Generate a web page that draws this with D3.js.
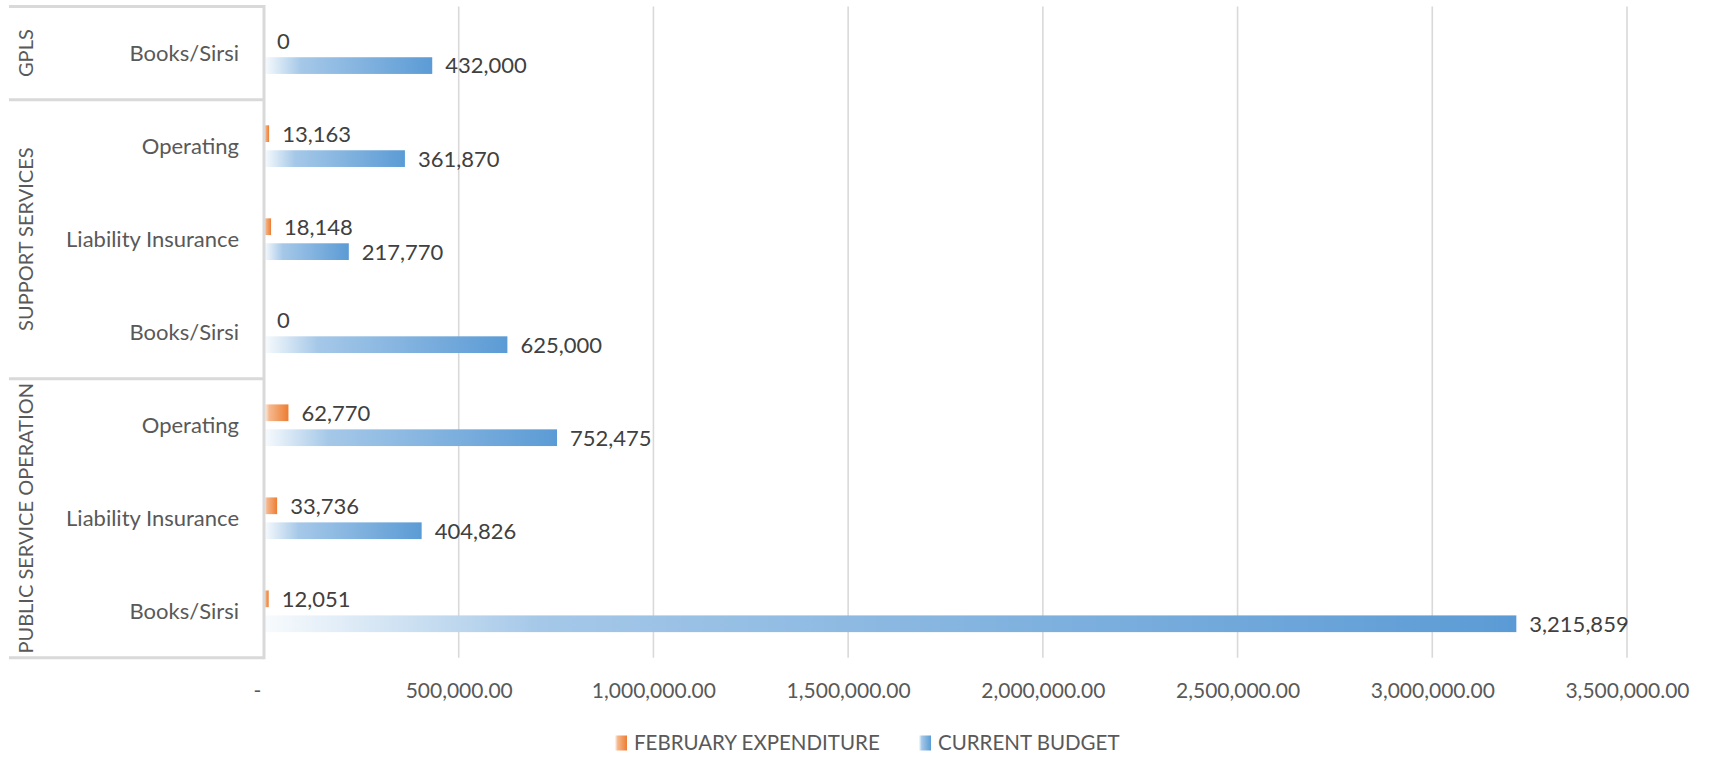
<!DOCTYPE html>
<html>
<head>
<meta charset="utf-8">
<script src="https://cdn.jsdelivr.net/npm/d3@7"></script>
<style>
  html, body { margin: 0; padding: 0; background: #ffffff; }
  svg { display: block; font-family: Lato, "Open Sans", sans-serif; }
</style>
</head>
<body>
<svg id="chart" width="1719" height="778"></svg>
<script>
// Budget lines, top to bottom
const groups = ["GPLS", "SUPPORT SERVICES", "PUBLIC SERVICE OPERATION"];
const rowGroups = ["GPLS", "SUPPORT SERVICES", "SUPPORT SERVICES", "SUPPORT SERVICES",
                   "PUBLIC SERVICE OPERATION", "PUBLIC SERVICE OPERATION", "PUBLIC SERVICE OPERATION"];
const categories = ["Books/Sirsi", "Operating", "Liability Insurance", "Books/Sirsi",
                    "Operating", "Liability Insurance", "Books/Sirsi"];
const februaryExpenditure = [0, 13163, 18148, 0, 62770, 33736, 12051];
const currentBudget = [432000, 361870, 217770, 625000, 752475, 404826, 3215859];
const seriesNames = ["FEBRUARY EXPENDITURE", "CURRENT BUDGET"];
const xTicks = [0, 500000, 1000000, 1500000, 2000000, 2500000, 3000000, 3500000];

const colors = { "FEBRUARY EXPENDITURE": "#ed7d31", "CURRENT BUDGET": "#5b9bd5" };
const gridColor = "#d9d9d9";

const svg = d3.select("#chart");
const plot = { left: 264, right: 1627, top: 6.6, bottom: 657.8 };
const boxLeft = 9;

const rowIds = categories.map((c, i) => i);
const rows = rowIds.map(i => ({
  id: i, group: rowGroups[i], category: categories[i],
  values: [
    { series: seriesNames[0], value: februaryExpenditure[i] },
    { series: seriesNames[1], value: currentBudget[i] }
  ]
}));

const x = d3.scaleLinear().domain([0, 3500000]).range([plot.left, plot.right]);
const y = d3.scaleBand().domain(rowIds).range([plot.top, plot.bottom]).paddingInner(0).paddingOuter(0);
const ySub = d3.scaleBand().domain(seriesNames).range([0, y.bandwidth()])
  .paddingInner(0.33).paddingOuter(1.03);

// Gradient fills: white on the left fading into the series colour
const defs = svg.append("defs");
function mix(hex, w) {
  const c = d3.rgb(hex);
  return d3.rgb(c.r + (255 - c.r) * w, c.g + (255 - c.g) * w, c.b + (255 - c.b) * w).formatHex();
}
seriesNames.forEach((s, k) => {
  const g = defs.append("linearGradient").attr("id", "grad" + k)
    .attr("x1", "0%").attr("x2", "100%").attr("y1", "0%").attr("y2", "0%");
  g.append("stop").attr("offset", "0%").attr("stop-color", mix(colors[s], 0.96));
  g.append("stop").attr("offset", "22%").attr("stop-color", mix(colors[s], 0.45));
  g.append("stop").attr("offset", "100%").attr("stop-color", colors[s]);
});

// Vertical gridlines
svg.append("g").selectAll("line")
  .data(xTicks.filter(t => t > 0))
  .join("line")
  .attr("x1", d => x(d)).attr("x2", d => x(d))
  .attr("y1", plot.top).attr("y2", plot.bottom)
  .attr("stroke", gridColor).attr("stroke-width", 1.6);

// Value axis labels
const xAxis = d3.axisBottom(x).tickValues(xTicks)
  .tickFormat(d => d === 0 ? "-" : d3.format(",.2f")(d))
  .tickSize(0).tickPadding(0);
const xg = svg.append("g").attr("transform", `translate(0, ${plot.bottom + 25})`).call(xAxis);
xg.select(".domain").remove();
xg.selectAll("text")
  .attr("fill", "#595959").style("font-size", "21px").style("font-family", "Lato")
  .attr("dy", "0.71em")
  .attr("dx", d => d === 0 ? -7 : 0);

// Bars
const rowG = svg.append("g").selectAll("g")
  .data(rows).join("g")
  .attr("transform", d => `translate(0, ${y(d.id)})`);

rowG.selectAll("rect")
  .data(d => d.values)
  .join("rect")
  .attr("x", x(0))
  .attr("y", d => ySub(d.series))
  .attr("width", d => Math.max(0, x(d.value) - x(0)))
  .attr("height", ySub.bandwidth())
  .attr("fill", d => `url(#grad${seriesNames.indexOf(d.series)})`);

// Data labels
rowG.selectAll("text.value")
  .data(d => d.values)
  .join("text")
  .attr("class", "value")
  .attr("x", d => x(d.value) + 13)
  .attr("y", d => ySub(d.series) + ySub.bandwidth() / 2)
  .attr("dy", "0.36em")
  .attr("fill", "#404040")
  .style("font-size", "22px")
  .text(d => d3.format(",")(d.value));

// Category axis: box lines between groups
const groupExtents = groups.map(g => {
  const ids = rows.filter(r => r.group === g).map(r => r.id);
  return { group: g, y0: y(d3.min(ids)), y1: y(d3.max(ids)) + y.bandwidth() };
});
const boundaries = [plot.top, ...groupExtents.map(e => e.y1)];
const axisG = svg.append("g");
axisG.selectAll("line.sep")
  .data(boundaries).join("line")
  .attr("class", "sep")
  .attr("x1", boxLeft).attr("x2", plot.left)
  .attr("y1", d => d).attr("y2", d => d)
  .attr("stroke", gridColor).attr("stroke-width", 3);
axisG.append("line")
  .attr("x1", plot.left).attr("x2", plot.left)
  .attr("y1", plot.top - 1.5).attr("y2", plot.bottom + 1.5)
  .attr("stroke", gridColor).attr("stroke-width", 3);

// Category labels
axisG.selectAll("text.cat")
  .data(rows).join("text")
  .attr("class", "cat")
  .attr("x", 239)
  .attr("y", d => y(d.id) + y.bandwidth() / 2)
  .attr("dy", "0.36em")
  .attr("text-anchor", "end")
  .attr("fill", "#595959")
  .style("font-size", "22px")
  .text(d => d.category);

// Group labels, rotated
axisG.selectAll("text.grp")
  .data(groupExtents).join("text")
  .attr("class", "grp")
  .attr("transform", d => `translate(26, ${(d.y0 + d.y1) / 2}) rotate(-90)`)
  .attr("dy", "0.36em")
  .attr("text-anchor", "middle")
  .attr("fill", "#595959")
  .style("font-size", "20px")
  .text(d => d.group);

// Legend
const legendX = [615, 919];
const legend = svg.append("g").attr("transform", "translate(0, 743)");
const li = legend.selectAll("g").data(seriesNames).join("g")
  .attr("transform", (d, i) => `translate(${legendX[i]}, 0)`);
li.append("rect")
  .attr("x", 0).attr("y", -7.5).attr("width", 12).attr("height", 15)
  .attr("fill", (d, i) => `url(#grad${i})`);
li.append("text")
  .attr("x", 19).attr("dy", "0.36em")
  .attr("fill", "#595959")
  .style("font-size", "20.5px")
  .text(d => d);
</script>
</body>
</html>
